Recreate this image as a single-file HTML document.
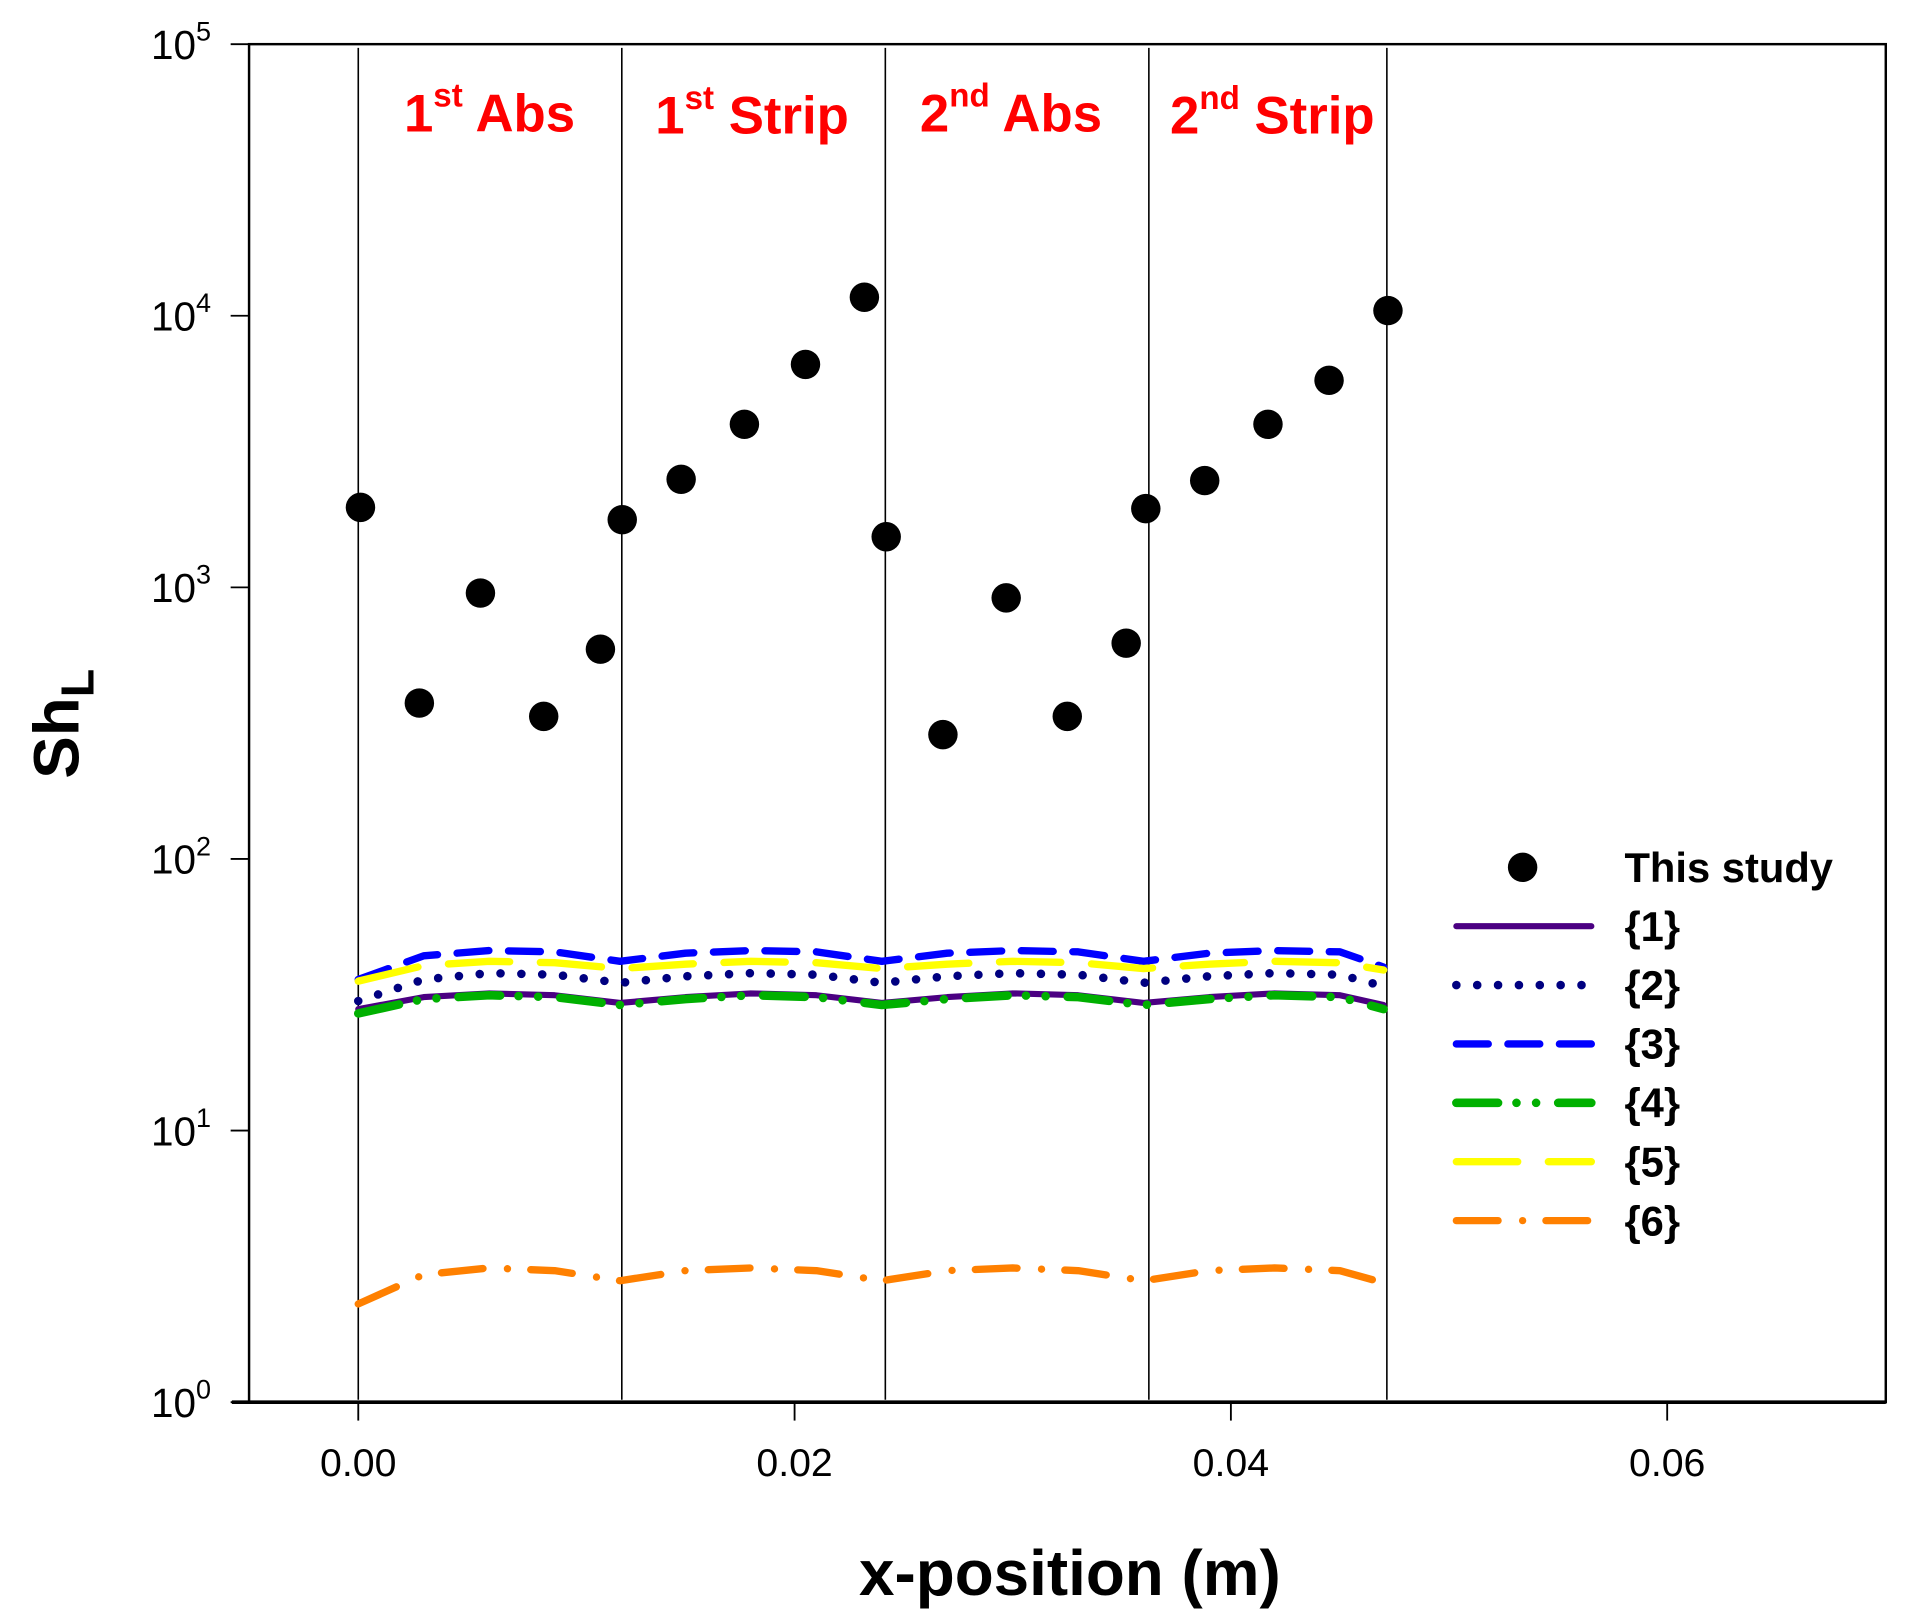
<!DOCTYPE html>
<html><head><meta charset="utf-8"><style>html,body{margin:0;padding:0;background:#fff}svg{display:block}</style></head>
<body>
<svg id="chart" width="1914" height="1623" viewBox="0 0 1560 1323" preserveAspectRatio="none" xmlns="http://www.w3.org/2000/svg" font-family="Liberation Sans, Arial, sans-serif">
<g id="grid"></g>
<g id="axes"></g>
<g id="series"></g>
<g id="points"></g>
<g fill="#ff0000" font-weight="bold" font-size="43" text-anchor="middle">
<text x="399" y="107">1<tspan font-size="27" dy="-20">st</tspan><tspan dy="20"> Abs</tspan></text>
<text x="613" y="109">1<tspan font-size="27" dy="-20">st</tspan><tspan dy="20"> Strip</tspan></text>
<text x="824" y="107">2<tspan font-size="27" dy="-20">nd</tspan><tspan dy="20"> Abs</tspan></text>
<text x="1037" y="109">2<tspan font-size="27" dy="-20">nd</tspan><tspan dy="20"> Strip</tspan></text>
</g>
<text x="872" y="1300" font-size="52" font-weight="bold" text-anchor="middle">x-position (m)</text>
<text transform="translate(64,590) rotate(-90)" font-size="52" font-weight="bold" text-anchor="middle">Sh<tspan font-size="38" dy="12">L</tspan></text>
<g id="legend"></g>
</svg>
<script>
const pointX=[0.0001,0.0028,0.0056,0.0085,0.0111,0.0121,0.0148,0.0177,0.0205,0.0232,0.0242,0.0268,0.0297,0.0325,0.0352,0.0361,0.0388,0.0417,0.0445,0.0472];
const pointY=[1970,375,953,335,592,1775,2500,3985,6620,11700,1536,287,915,335,623,1950,2473,3985,5785,10450];
const lineX=[0,0.003,0.006,0.009,0.012,0.015,0.018,0.021,0.024,0.027,0.030,0.033,0.036,0.039,0.042,0.045,0.047];
const s1=[28,31,32,31.5,29.5,31,32,31.5,29.5,31,32,31.5,29.5,31,32,31.5,29];
const s2=[30,36,38,37.5,35,37,38,37.5,35,37,38,37.5,35,37,38,37.5,34];
const s3=[36,44,46,45.5,42,45,46,45.5,42,45,46,45.5,42,45,46,45.5,40];
const s4=[27,30.5,31.5,31,29,30.5,31.5,31,29,30.5,31.5,31,29,30.5,31.5,31,28];
const s5=[35.5,40.5,42,41.5,39.5,41,42,41.5,39.5,41,42,41.5,39.5,41,42,41.5,39];
const s6=[2.3,2.95,3.12,3.05,2.8,3.05,3.12,3.05,2.8,3.05,3.12,3.05,2.8,3.05,3.12,3.05,2.75];
const dividers=[0,0.01208,0.02416,0.03624,0.04715];
const xTicks=[0,0.02,0.04,0.06];
const xTickLabels=["0.00","0.02","0.04","0.06"];
const yTicks=[0,1,2,3,4,5];
const legendLabels=["{1}","{2}","{3}","{4}","{5}","{6}"];

const NS="http://www.w3.org/2000/svg";
const L=203,R=1537,T=36,B=1143,X0=-0.005006,X1=0.07002;
const sx=v=>L+(v-X0)/(X1-X0)*(R-L);
const sy=v=>B-(Math.log10(v)-0)/5*(B-T);
function mk(tag,attrs,parent){const e=document.createElementNS(NS,tag);for(const k in attrs)e.setAttribute(k,attrs[k]);parent.appendChild(e);return e;}
const grid=document.getElementById('grid'),axes=document.getElementById('axes'),ser=document.getElementById('series'),pts=document.getElementById('points'),leg=document.getElementById('legend');
dividers.forEach(d=>{const l=mk('line',{x1:sx(d),x2:sx(d),y1:39,y2:1141,stroke:'#000','stroke-width':1.3},grid);

});
const frame=mk('rect',{x:L,y:T,width:R-L,height:B-T,fill:'none',stroke:'#000','stroke-width':2},axes);


const bl=mk('line',{x1:189,x2:R,y1:B,y2:B,stroke:'#000','stroke-width':3},axes);


xTicks.forEach((t,i)=>{mk('line',{x1:sx(t),x2:sx(t),y1:B,y2:B+15,stroke:'#000','stroke-width':1.5},axes);
const tx=mk('text',{x:sx(t),y:B+60,'font-size':32,'text-anchor':'middle'},axes);tx.textContent=xTickLabels[i];

});
yTicks.forEach(p=>{const y=sy(Math.pow(10,p));mk('line',{x1:L-15,x2:L,y1:y,y2:y,stroke:'#000','stroke-width':1.5},axes);
const tx=mk('text',{x:172,y:y+12,'font-size':33,'text-anchor':'end'},axes);tx.innerHTML='10<tspan font-size="22" dy="-15">'+p+'</tspan>';

});
const styles=[
{c:'#4b0082',d:'',w:5},{c:'#000080',d:'0 17',w:7},{c:'#0000ff',d:'26 16',w:6},
{c:'#00b000',d:'34 15 0 16 0 18',w:7},{c:'#ffff00',d:'50 25',w:6},{c:'#ff8000',d:'34 20 0 19',w:6}];
[s1,s2,s3,s4,s5,s6].forEach((s,i)=>{const st=styles[i];
const p=mk('polyline',{points:lineX.map((x,j)=>sx(x)+','+sy(s[j])).join(' '),fill:'none',stroke:st.c,'stroke-width':st.w,'stroke-dasharray':st.d,'stroke-linecap':'round','stroke-linejoin':'round'},ser);


const ly=755+i*48;
const ll=mk('line',{x1:1187,x2:1297,y1:ly,y2:ly,stroke:st.c,'stroke-width':st.w,'stroke-dasharray':st.d,'stroke-linecap':'round'},leg);


const lt=mk('text',{x:1324,y:ly+12,'font-size':34,'font-weight':'bold'},leg);lt.textContent=legendLabels[i];

});
pointX.forEach((x,i)=>{const c=mk('circle',{cx:sx(x),cy:sy(pointY[i]),r:12,fill:'#000'},pts);

});
const ld=mk('circle',{cx:1241,cy:707,r:12,fill:'#000'},leg);


const lt=mk('text',{x:1324,y:719,'font-size':34,'font-weight':'bold'},leg);lt.textContent='This study';


</script>
</body></html>
